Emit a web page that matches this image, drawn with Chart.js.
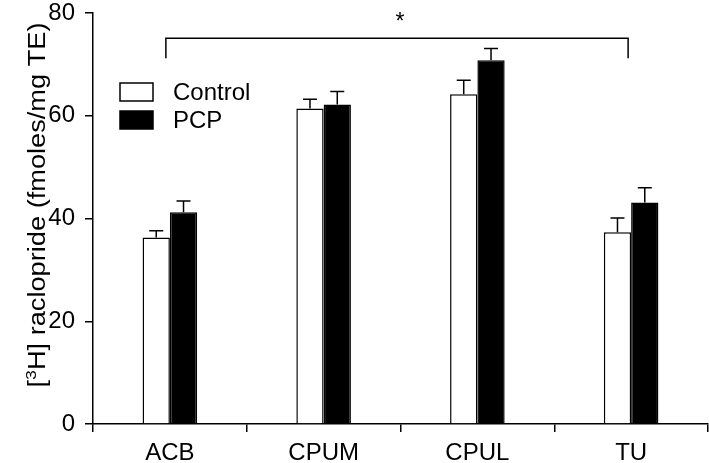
<!DOCTYPE html>
<html>
<head>
<meta charset="utf-8">
<script src="https://cdn.jsdelivr.net/npm/chart.js@4.4.1/dist/chart.umd.min.js"></script>
<style>
html,body{margin:0;padding:0;background:#fff;}
#wrap{width:709px;height:463px;}
</style>
</head>
<body>
<div id="wrap"><canvas id="c"></canvas></div>
<script>
const categories = ["ACB", "CPUM", "CPUL", "TU"];
const controlValues = [36.3, 61.4, 64.2, 37.3];
const controlErrors = [1.3, 1.8, 2.7, 2.8];
const pcpValues = [41.2, 62.2, 70.8, 43.1];
const pcpErrors = [2.2, 2.5, 2.3, 2.9];
const yTicks = [0, 20, 40, 60, 80];
const seriesNames = ["Control", "PCP"];
const yTitle = ["[", "3", "H] raclopride (fmoles/mg TE)"];
// significance bracket between ACB and TU
const bracketFrom = 0, bracketTo = 3;
const bracketTop = 75.1, bracketBottom = 71.2;
const bracketMark = "*";

const FONT = '"Liberation Sans", Arial, sans-serif';

const errorBars = {
    id: "errorBars",
    afterDatasetsDraw(chart) {
        const ctx = chart.ctx;
        const y = chart.scales.y;
        const errs = [controlErrors, pcpErrors];
        ctx.save();
        ctx.strokeStyle = "#000";
        ctx.lineWidth = 1.5;
        chart.data.datasets.forEach((ds, i) => {
            const meta = chart.getDatasetMeta(i);
            meta.data.forEach((bar, j) => {
                const top = y.getPixelForValue(ds.data[j] + errs[i][j]);
                ctx.beginPath();
                ctx.moveTo(bar.x, bar.y);
                ctx.lineTo(bar.x, top);
                ctx.moveTo(bar.x - 7, top);
                ctx.lineTo(bar.x + 7, top);
                ctx.stroke();
            });
        });
        ctx.restore();
    }
};

const extras = {
    id: "extras",
    afterDraw(chart) {
        const ctx = chart.ctx;
        const x = chart.scales.x;
        const y = chart.scales.y;
        ctx.save();
        ctx.fillStyle = "#000";
        ctx.strokeStyle = "#000";
        ctx.lineWidth = 1.5;

        //------------------------
        // bracket + star
        //------------------------
        const x1 = x.getPixelForValue(bracketFrom) - 4;
        const x2 = x.getPixelForValue(bracketTo) - 3;
        const yt = y.getPixelForValue(bracketTop);
        const yb = y.getPixelForValue(bracketBottom);
        ctx.beginPath();
        ctx.moveTo(x1, yb);
        ctx.lineTo(x1, yt);
        ctx.lineTo(x2, yt);
        ctx.lineTo(x2, yb);
        ctx.stroke();
        ctx.font = "23px " + FONT;
        ctx.textAlign = "center";
        ctx.textBaseline = "alphabetic";
        ctx.fillText(bracketMark, (x1 + x2) / 2 + 3, 29);

        //------------------------
        // legend
        //------------------------
        const colors = ["#fff", "#000"];
        ctx.font = "24px " + FONT;
        ctx.textAlign = "left";
        ctx.textBaseline = "middle";
        seriesNames.forEach((name, i) => {
            const by = 83 + i * 28;
            ctx.fillStyle = colors[i];
            ctx.fillRect(120, by, 33, 18);
            ctx.strokeRect(120, by, 33, 18);
            ctx.fillStyle = "#000";
            ctx.fillText(name, 173, by + 10);
        });

        //------------------------
        // y title with superscript
        //------------------------
        ctx.translate(37, 205);
        ctx.rotate(-Math.PI / 2);
        const big = "23px " + FONT;
        const small = "15px " + FONT;
        ctx.font = big;
        const w0 = ctx.measureText(yTitle[0]).width;
        const w2 = ctx.measureText(yTitle[2]).width;
        ctx.font = small;
        const w1 = ctx.measureText(yTitle[1]).width;
        const total = w0 + w1 + w2;
        ctx.scale(365 / total, 1);
        let px = -total / 2;
        ctx.textAlign = "left";
        ctx.textBaseline = "alphabetic";
        ctx.font = big;
        ctx.fillText(yTitle[0], px, 8);
        px += w0;
        ctx.font = small;
        ctx.fillText(yTitle[1], px, -1);
        px += w1;
        ctx.font = big;
        ctx.fillText(yTitle[2], px, 8);
        ctx.restore();
    }
};

new Chart(document.getElementById("c"), {
    type: "bar",
    data: {
        labels: categories,
        datasets: [
            {
                label: seriesNames[0],
                data: controlValues,
                backgroundColor: "#fff",
                borderColor: "#000",
                borderWidth: 1.5
            },
            {
                label: seriesNames[1],
                data: pcpValues,
                backgroundColor: "#000",
                borderColor: "#000",
                borderWidth: 1.5
            }
        ]
    },
    options: {
        responsive: true,
        maintainAspectRatio: false,
        animation: false,
        events: [],
        layout: { padding: { top: 13, right: 1, left: 0, bottom: 0 } },
        datasets: { bar: { categoryPercentage: 0.355, barPercentage: 1 } },
        plugins: {
            legend: { display: false },
            tooltip: { enabled: false }
        },
        scales: {
            x: {
                grid: { drawOnChartArea: false, drawTicks: true, tickLength: 8, color: "#000", lineWidth: 1.5, offset: true },
                border: { color: "#000", width: 1.5 },
                ticks: { color: "#000", padding: 9, font: { family: FONT, size: 24, lineHeight: 1 } },
                afterFit(s) { s.height = 39; s.paddingLeft = 0; s.paddingRight = 0; }
            },
            y: {
                min: 0,
                max: 80,
                afterBuildTicks(s) { s.ticks = yTicks.map(v => ({ value: v })); },
                grid: { drawOnChartArea: false, drawTicks: true, tickLength: 8, color: "#000", lineWidth: 1.5 },
                border: { color: "#000", width: 1.5 },
                ticks: { color: "#000", padding: 10, font: { family: FONT, size: 24, lineHeight: 1 } },
                afterFit(s) { s.width = 93; s.paddingTop = 0; s.paddingBottom = 0; }
            }
        }
    },
    plugins: [errorBars, extras]
});
</script>
</body>
</html>
